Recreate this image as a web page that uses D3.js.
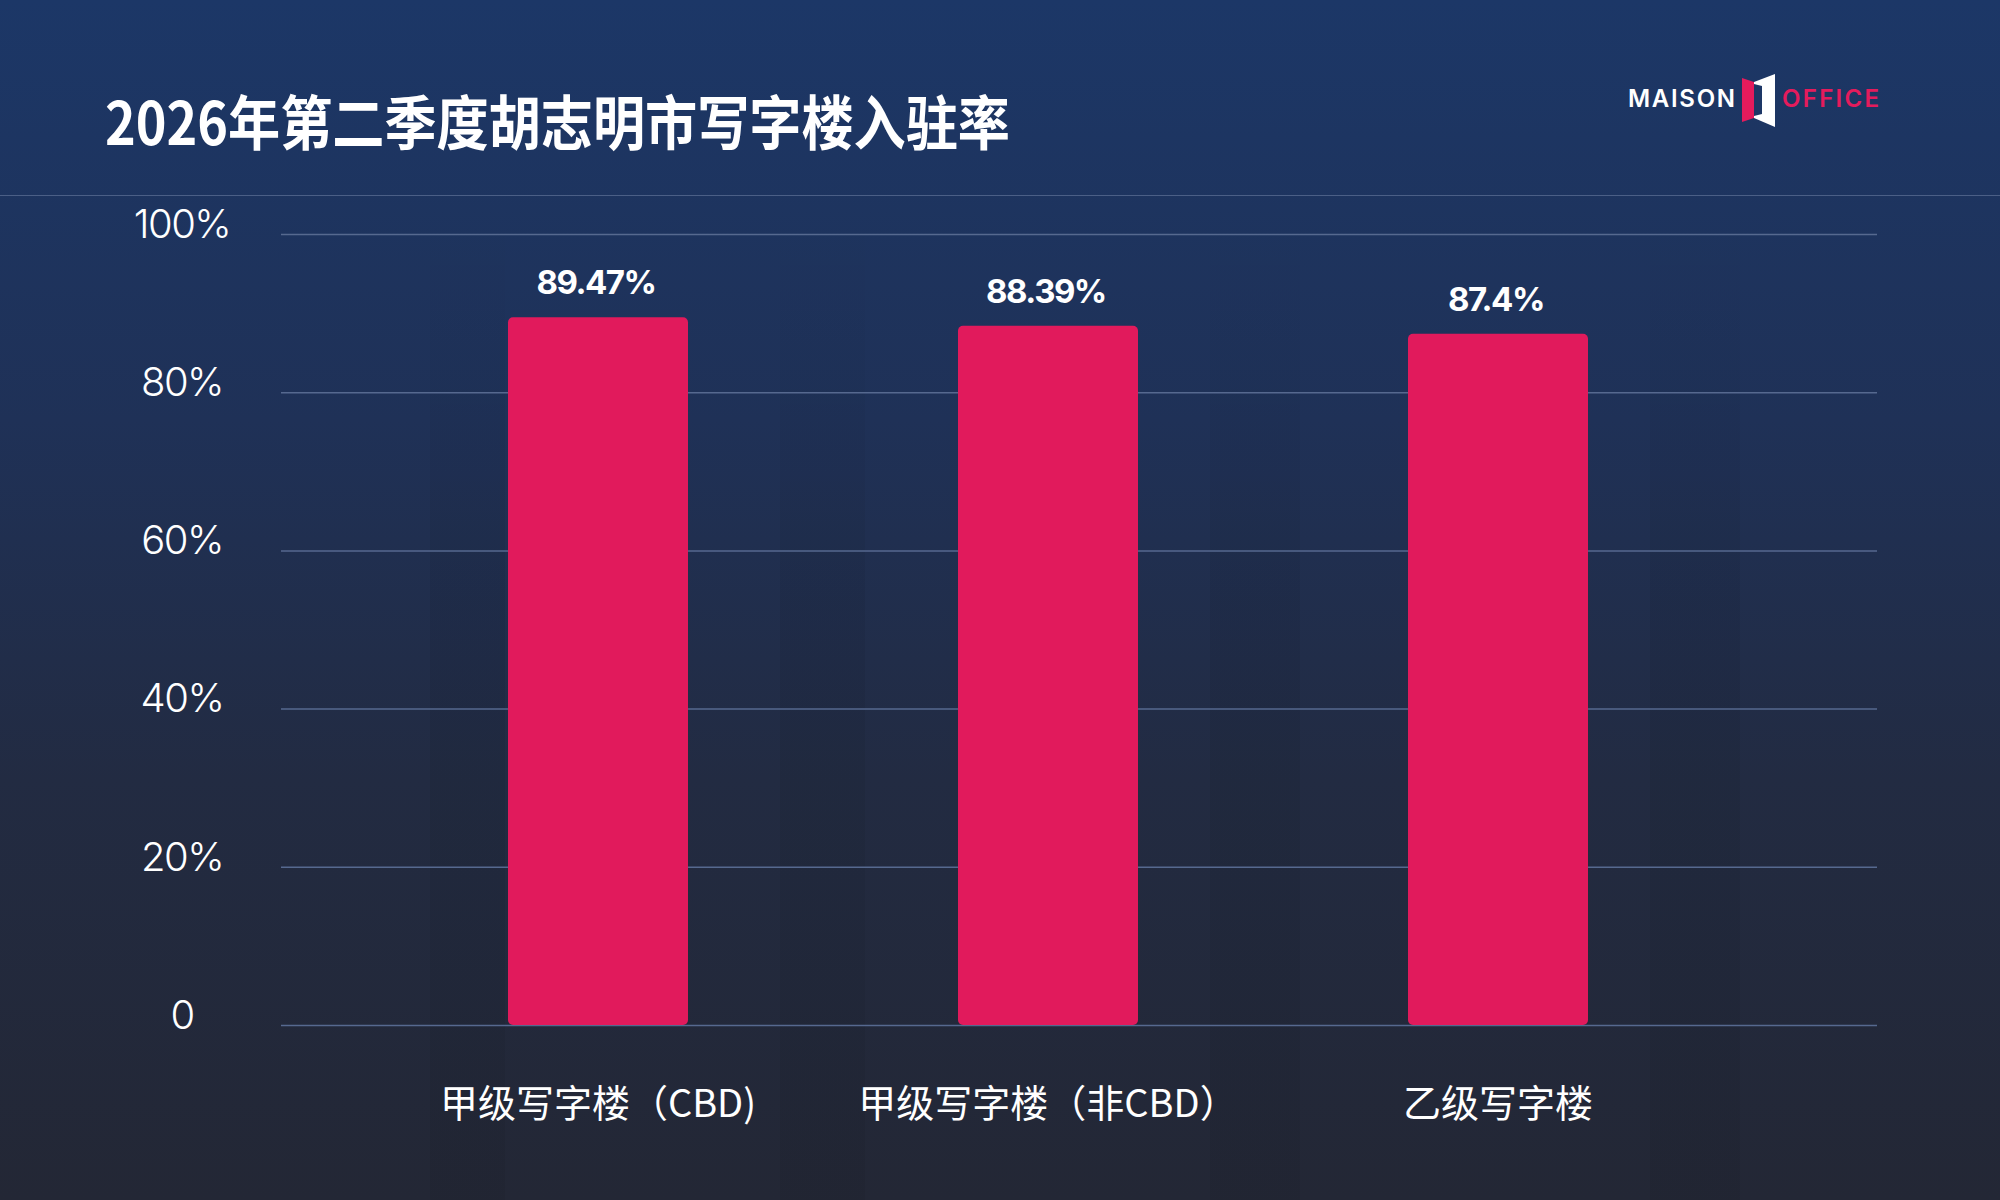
<!DOCTYPE html>
<html>
<head>
<meta charset="utf-8">
<script src="https://cdn.jsdelivr.net/npm/d3@7/dist/d3.min.js"></script>
<style>
  html, body { margin: 0; padding: 0; background: #222838; }
  svg { display: block; }
</style>
</head>
<body>
<svg id="chart" width="2000" height="1200"></svg>
<script>
const title = "2026年第二季度胡志明市写字楼入驻率";
const categories = ["甲级写字楼（CBD)", "甲级写字楼（非CBD）", "乙级写字楼"];
const occupancy = [89.47, 88.39, 87.4];
const valueLabels = ["89.47%", "88.39%", "87.4%"];
const yTicks = [0, 20, 40, 60, 80, 100];
const yTickLabels = ["0", "20%", "40%", "60%", "80%", "100%"];

const W = 2000, H = 1200;
const svg = d3.select("#chart");
const defs = svg.append("defs");

const bg = defs.append("linearGradient").attr("id", "bg")
  .attr("x1", 0).attr("y1", 0).attr("x2", 0).attr("y2", 1);
bg.append("stop").attr("offset", "0%").attr("stop-color", "#1c3767");
bg.append("stop").attr("offset", "35%").attr("stop-color", "#1f3157");
bg.append("stop").attr("offset", "65%").attr("stop-color", "#222b42");
bg.append("stop").attr("offset", "100%").attr("stop-color", "#232735");
svg.append("rect").attr("width", W).attr("height", H).attr("fill", "url(#bg)");

// subtle vertical bands in the background
const bandFade = defs.append("linearGradient").attr("id", "bandFade")
  .attr("x1", 0).attr("y1", 0).attr("x2", 0).attr("y2", 1);
bandFade.append("stop").attr("offset", "0%").attr("stop-color", "#000").attr("stop-opacity", 0);
bandFade.append("stop").attr("offset", "40%").attr("stop-color", "#000").attr("stop-opacity", 0.06);
bandFade.append("stop").attr("offset", "100%").attr("stop-color", "#000").attr("stop-opacity", 0.05);
const decoBands = [[430, 505], [780, 865], [1210, 1300], [1650, 1740]];
svg.append("g").selectAll("rect").data(decoBands).join("rect")
  .attr("x", d => d[0]).attr("y", 200).attr("width", d => d[1] - d[0]).attr("height", 1000)
  .attr("fill", "url(#bandFade)");

// header separator
svg.append("line").attr("x1", 0).attr("x2", W).attr("y1", 195.5).attr("y2", 195.5)
  .attr("stroke", "#4b5f86").attr("stroke-width", 1.2);

// title
svg.append("text").attr("x", 105).attr("y", 145)
  .attr("font-family", "'Noto Sans CJK SC', sans-serif").attr("font-weight", 700)
  .attr("font-size", 59).attr("fill", "#ffffff")
  .attr("textLength", 905).attr("lengthAdjust", "spacingAndGlyphs")
  .text(title);

// logo
const logo = svg.append("g");
logo.append("text").attr("x", 1628).attr("y", 107)
  .attr("font-family", "Inter, sans-serif").attr("font-weight", 600).attr("font-size", 24)
  .attr("fill", "#ffffff").attr("textLength", 107).attr("lengthAdjust", "spacing").text("MAISON");
logo.append("polygon").attr("points", "1742,78 1754,82 1754,118 1742,122").attr("fill", "#e51b5c");
logo.append("polygon").attr("points", "1754,82 1775,74 1775,127 1754,118").attr("fill", "#ffffff");
logo.append("polygon").attr("points", "1754,84 1762,86 1762,114 1754,116").attr("fill", "#1d3766");
logo.append("text").attr("x", 1782).attr("y", 107)
  .attr("font-family", "Inter, sans-serif").attr("font-weight", 600).attr("font-size", 24)
  .attr("fill", "#e51b5c").attr("textLength", 97).attr("lengthAdjust", "spacing").text("OFFICE");

// scales
const y = d3.scaleLinear().domain([0, 100]).range([1025, 234]);
const x = d3.scaleBand().domain(categories).range([283, 1813]).paddingInner(0.6).paddingOuter(0.5);
const gridX0 = 281, gridX1 = 1877;

// gridlines via axis
const gridAxis = d3.axisLeft(y).tickValues(yTicks).tickSize(-(gridX1 - gridX0)).tickFormat("");
const gg = svg.append("g").attr("transform", `translate(${gridX0},0)`).call(gridAxis);
gg.select(".domain").remove();
gg.selectAll(".tick line").attr("stroke", "#56698f").attr("stroke-width", 1.5);

// y tick labels
const yLabelAxis = d3.axisLeft(y).tickValues(yTicks).tickSize(0)
  .tickFormat((d, i) => yTickLabels[i]);
const yl = svg.append("g").attr("transform", "translate(182,0)").call(yLabelAxis);
yl.select(".domain").remove();
yl.selectAll(".tick text")
  .attr("text-anchor", "middle").attr("x", 0).attr("dy", "0.08em")
  .attr("font-family", "Inter, sans-serif").attr("font-weight", 300).attr("font-size", 40)
  .attr("fill", "#ffffff").attr("letter-spacing", -1.5);

// bars
const data = categories.map((c, i) => ({ c, v: occupancy[i], label: valueLabels[i] }));
svg.append("g").selectAll("rect").data(data).join("rect")
  .attr("x", d => x(d.c)).attr("width", x.bandwidth())
  .attr("y", d => y(d.v)).attr("height", d => y(0) - y(d.v))
  .attr("rx", 5).attr("ry", 5)
  .attr("fill", "#e11a5c");

// value labels
svg.append("g").selectAll("text").data(data).join("text")
  .attr("x", d => x(d.c) + x.bandwidth() / 2 - 2).attr("y", d => y(d.v) - 23)
  .attr("text-anchor", "middle")
  .attr("font-family", "Inter, sans-serif").attr("font-weight", 700).attr("font-size", 33)
  .attr("letter-spacing", -1.5).attr("fill", "#ffffff")
  .text(d => d.label);

// category labels
const xAxis = d3.axisBottom(x).tickSize(0);
const xa = svg.append("g").attr("transform", "translate(0,1025)").call(xAxis);
xa.select(".domain").remove();
xa.selectAll(".tick text")
  .attr("y", 0).attr("dy", 92)
  .attr("font-family", "'Noto Sans CJK SC', sans-serif").attr("font-weight", 400).attr("font-size", 38)
  .attr("fill", "#ffffff");
</script>
</body>
</html>
